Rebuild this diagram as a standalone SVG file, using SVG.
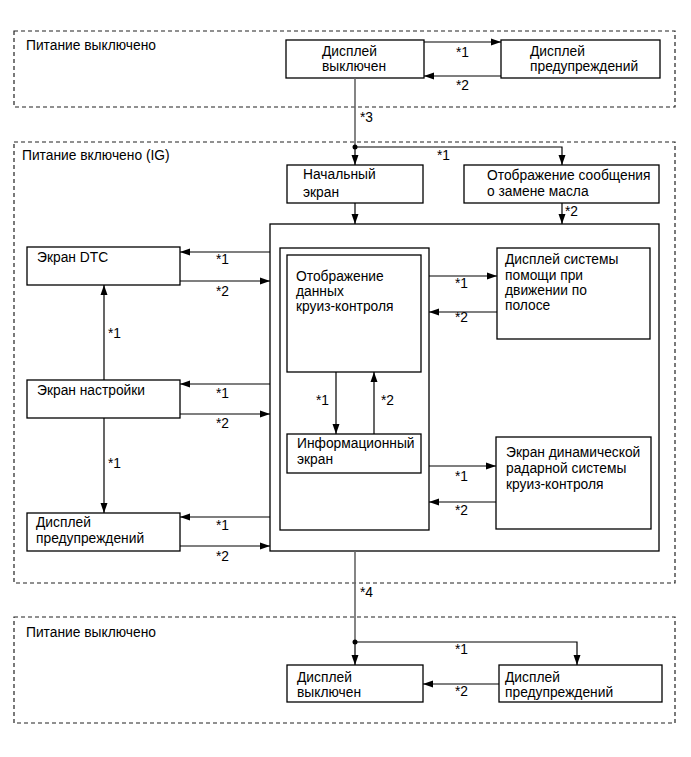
<svg xmlns="http://www.w3.org/2000/svg" width="691" height="757" viewBox="0 0 691 757">
<style>
.zone{fill:none;stroke:#222;stroke-width:1.2;stroke-dasharray:4 3}
.box{fill:#fff;stroke:#000;stroke-width:1.3}
.t{font-family:"Liberation Sans",Arial,sans-serif;font-size:13.8px;fill:#000}
.c{fill:none;stroke:#000;stroke-width:1.2}
.g{fill:none;stroke:#666;stroke-width:1.6}
</style>
<defs>
<marker id="ah" markerUnits="userSpaceOnUse" markerWidth="10" markerHeight="8" refX="10" refY="4" orient="auto">
<path d="M0,0.5 L10,4 L0,7.5 z" fill="#000"/>
</marker>
</defs>
<rect width="691" height="757" fill="#fff"/>

<g id="zones">
<rect class="zone" x="14" y="31" width="661" height="76"/>
<text class="t" x="26" y="50">Питание выключено</text>
<rect class="zone" x="14" y="142" width="661" height="441"/>
<text class="t" x="22" y="160">Питание включено (IG)</text>
<rect class="zone" x="14" y="617" width="661" height="106"/>
<text class="t" x="26" y="637">Питание выключено</text>
</g>

<g id="top-display-off">
<rect class="box" x="286" y="40" width="138" height="38"/>
<text class="t" x="322" y="56">Дисплей</text>
<text class="t" x="322" y="71">выключен</text>
</g>
<g id="top-warning">
<rect class="box" x="501" y="40" width="159" height="38"/>
<text class="t" x="530" y="56">Дисплей</text>
<text class="t" x="530" y="71">предупреждений</text>
</g>

<g id="start-screen">
<rect class="box" x="287" y="165" width="136" height="38"/>
<text class="t" x="303" y="179">Начальный</text>
<text class="t" x="303" y="197">экран</text>
</g>
<g id="oil-message">
<rect class="box" x="464" y="165" width="195" height="38"/>
<text class="t" x="487" y="180">Отображение сообщения</text>
<text class="t" x="487" y="196">о замене масла</text>
</g>

<g id="main-group">
<rect class="box" x="270" y="224" width="389" height="327"/>
</g>
<g id="inner-group">
<rect class="box" x="280" y="248" width="149" height="282"/>
</g>
<g id="cruise-data">
<rect class="box" x="287" y="255" width="134" height="117"/>
<text class="t" x="296" y="281">Отображение</text>
<text class="t" x="296" y="296">данных</text>
<text class="t" x="296" y="311">круиз-контроля</text>
</g>
<g id="info-screen">
<rect class="box" x="287" y="434" width="134" height="39"/>
<text class="t" x="297" y="448">Информационный</text>
<text class="t" x="297" y="464">экран</text>
</g>
<g id="lane-assist">
<rect class="box" x="497" y="248" width="153" height="91"/>
<text class="t" x="505" y="264">Дисплей системы</text>
<text class="t" x="505" y="280">помощи при</text>
<text class="t" x="505" y="295">движении по</text>
<text class="t" x="505" y="310">полосе</text>
</g>
<g id="radar-cruise">
<rect class="box" x="496" y="437" width="155" height="92"/>
<text class="t" x="506" y="457">Экран динамической</text>
<text class="t" x="506" y="473">радарной системы</text>
<text class="t" x="506" y="489">круиз-контроля</text>
</g>

<g id="dtc-screen">
<rect class="box" x="27" y="247" width="153" height="38"/>
<text class="t" x="37" y="262">Экран DTC</text>
</g>
<g id="settings-screen">
<rect class="box" x="27" y="380" width="153" height="38"/>
<text class="t" x="37" y="395">Экран настройки</text>
</g>
<g id="mid-warning">
<rect class="box" x="27" y="513" width="153" height="38"/>
<text class="t" x="36" y="527">Дисплей</text>
<text class="t" x="36" y="543">предупреждений</text>
</g>

<g id="bottom-display-off">
<rect class="box" x="287" y="665" width="136" height="37"/>
<text class="t" x="297" y="682">Дисплей</text>
<text class="t" x="297" y="697">выключен</text>
</g>
<g id="bottom-warning">
<rect class="box" x="499" y="665" width="163" height="37"/>
<text class="t" x="505" y="682">Дисплей</text>
<text class="t" x="505" y="697">предупреждений</text>
</g>

<g id="connectors">
<line class="g" x1="355" y1="78" x2="355" y2="147"/>
<text class="t" x="360" y="122">*3</text>
<line class="g" x1="355" y1="551" x2="355" y2="642"/>
<text class="t" x="360" y="597">*4</text>

<line class="c" x1="424" y1="42" x2="501" y2="42" marker-end="url(#ah)"/>
<text class="t" x="456" y="57">*1</text>
<line class="c" x1="501" y1="76" x2="424" y2="76" marker-end="url(#ah)"/>
<text class="t" x="456" y="90">*2</text>

<circle cx="355" cy="147" r="2.5" fill="#000"/>
<line class="c" x1="355" y1="147" x2="355" y2="165" marker-end="url(#ah)"/>
<polyline class="c" points="355,147 562,147 562,165" marker-end="url(#ah)"/>
<text class="t" x="437" y="160">*1</text>
<line class="c" x1="355" y1="203" x2="355" y2="224" marker-end="url(#ah)"/>
<line class="c" x1="562" y1="203" x2="562" y2="224" marker-end="url(#ah)"/>
<text class="t" x="565" y="216">*2</text>

<line class="c" x1="429" y1="276" x2="497" y2="276" marker-end="url(#ah)"/>
<text class="t" x="455" y="288">*1</text>
<line class="c" x1="497" y1="312" x2="429" y2="312" marker-end="url(#ah)"/>
<text class="t" x="455" y="322">*2</text>
<line class="c" x1="429" y1="466" x2="496" y2="466" marker-end="url(#ah)"/>
<text class="t" x="455" y="481">*1</text>
<line class="c" x1="496" y1="502" x2="429" y2="502" marker-end="url(#ah)"/>
<text class="t" x="455" y="515">*2</text>

<line class="c" x1="336" y1="372" x2="336" y2="434" marker-end="url(#ah)"/>
<text class="t" x="316" y="405">*1</text>
<line class="c" x1="374" y1="434" x2="374" y2="372" marker-end="url(#ah)"/>
<text class="t" x="381" y="405">*2</text>

<line class="c" x1="270" y1="252" x2="180" y2="252" marker-end="url(#ah)"/>
<text class="t" x="216" y="264">*1</text>
<line class="c" x1="180" y1="281" x2="270" y2="281" marker-end="url(#ah)"/>
<text class="t" x="216" y="296">*2</text>
<line class="c" x1="270" y1="384" x2="180" y2="384" marker-end="url(#ah)"/>
<text class="t" x="216" y="398">*1</text>
<line class="c" x1="180" y1="414" x2="270" y2="414" marker-end="url(#ah)"/>
<text class="t" x="216" y="428">*2</text>
<line class="c" x1="270" y1="517" x2="180" y2="517" marker-end="url(#ah)"/>
<text class="t" x="216" y="530">*1</text>
<line class="c" x1="180" y1="546" x2="270" y2="546" marker-end="url(#ah)"/>
<text class="t" x="216" y="561">*2</text>

<line class="c" x1="104" y1="380" x2="104" y2="285" marker-end="url(#ah)"/>
<text class="t" x="108" y="338">*1</text>
<line class="c" x1="104" y1="418" x2="104" y2="513" marker-end="url(#ah)"/>
<text class="t" x="108" y="468">*1</text>

<circle cx="355" cy="642" r="2.5" fill="#000"/>
<line class="c" x1="355" y1="642" x2="355" y2="665" marker-end="url(#ah)"/>
<polyline class="c" points="355,642 577,642 577,665" marker-end="url(#ah)"/>
<text class="t" x="455" y="654">*1</text>
<line class="c" x1="499" y1="684" x2="423" y2="684" marker-end="url(#ah)"/>
<text class="t" x="455" y="696">*2</text>
</g>
</svg>
